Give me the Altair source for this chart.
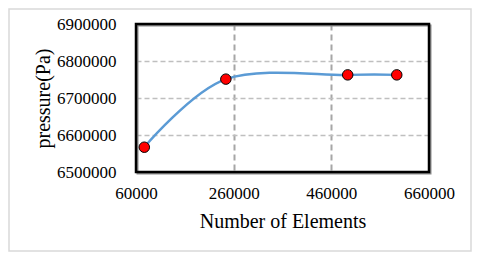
import altair as alt
import pandas as pd

elements = [77000, 244000, 493500, 594000]
pressure = [6567000, 6751000, 6762500, 6762500]
x_ticks = [60000, 260000, 460000, 660000]
y_ticks = [6500000, 6600000, 6700000, 6800000, 6900000]

df = pd.DataFrame({"elements": elements, "pressure": pressure})

FONT = "Liberation Serif"

x_enc = alt.X("elements:Q", title="Number of Elements",
              scale=alt.Scale(domain=[60000, 660000], nice=False, zero=False),
              axis=alt.Axis(values=x_ticks, format="d", grid=True, gridDash=[6, 4],
                            gridColor="#a6a6a6", gridWidth=2, domain=False, ticks=False,
                            labelFlush=False, labelOverlap=False,
                            labelPadding=13, titlePadding=10))
y_enc = alt.Y("pressure:Q", title="pressure(Pa)",
              scale=alt.Scale(domain=[6500000, 6900000], nice=False, zero=False),
              axis=alt.Axis(values=y_ticks, format="d", grid=True, gridDash=[5, 3],
                            gridColor="#bfbfbf", gridWidth=1.5, domain=False, ticks=False,
                            labelFlush=False, labelOverlap=False,
                            labelPadding=20, titlePadding=3))

base = alt.Chart(df)
one = pd.DataFrame({"a": [0]})

border = alt.Chart(one).mark_rect(
    fill=None, stroke="#d9d9d9", strokeWidth=1.5
).encode(x=alt.value(-127), x2=alt.value(335), y=alt.value(-15), y2=alt.value(227))

shadow = alt.Chart(one).mark_rect(
    fill=None, stroke="#8c8c8c", strokeWidth=2
).encode(x=alt.value(1.5), x2=alt.value(294.5), y=alt.value(1.5), y2=alt.value(149.5))

frame = alt.Chart(one).mark_rect(
    fill=None, stroke="#000000", strokeWidth=2.5
).encode(x=alt.value(0), x2=alt.value(293), y=alt.value(0), y2=alt.value(148))

line = base.mark_line(color="#5B9BD5", strokeWidth=2.5, interpolate="cardinal").encode(x=x_enc, y=y_enc)
points = base.mark_point(filled=True, fill="#ff0000", stroke="#000000", strokeWidth=1,
                         size=110, opacity=1, shape="circle").encode(x=x_enc, y=y_enc)

chart = alt.layer(border, line, shadow, frame, points).properties(
    width=293, height=148,
    autosize=alt.AutoSizeParams(type="none"),
    padding={"left": 128, "right": 43, "top": 16, "bottom": 80},
    background="white",
).configure_view(
    stroke=None
).configure(font=FONT).configure_axis(
    labelFont=FONT, titleFont=FONT, labelFontSize=17, titleFontSize=20,
    labelColor="#000000", titleColor="#000000", titleFontWeight="normal"
)

chart.save("out.html", embed_options={"renderer": "svg", "actions": False})
